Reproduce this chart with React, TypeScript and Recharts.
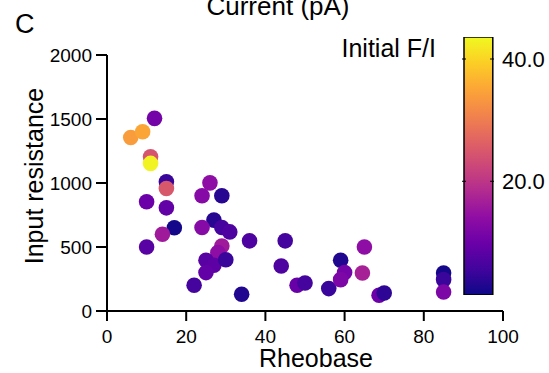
import React from 'react';
import { ScatterChart, Scatter, XAxis, YAxis, BarChart, Bar } from 'recharts';

// Rheobase (pA), input resistance and initial F/I for each cell
const rheobase = [
  6, 9, 12, 11, 11, 15, 15, 26, 24, 29, 10, 15, 27, 24, 29, 31, 17, 14, 10, 29, 28, 25,
  27, 30, 25, 22, 34, 36, 45, 44, 48, 50, 56, 59, 60, 59, 65, 64.5, 68.7, 70, 85, 85, 85,
];
const inputResistance = [
  1355, 1400, 1505, 1205, 1153, 1009, 957, 1001, 900, 900, 853, 806, 710, 652, 652, 618, 650, 600, 500,
  508, 457, 397, 357, 400, 300, 201, 131, 548, 548, 352, 201, 219, 175, 397, 300, 245, 500, 297, 123,
  141, 297, 245, 149,
];
const initialFI = [
  34, 35, 11, 24.5, 43, 5, 25, 14, 13, 3.5, 10, 9, 3.5, 13, 6, 7, 2, 16, 8, 16, 14, 8, 8.5, 5, 9, 6, 3,
  7, 6, 7, 9.5, 6, 5, 3, 11, 12, 14, 17, 10, 4, 2, 5, 12,
];

const xTicks = [0, 20, 40, 60, 80, 100];
const yTicks = [0, 500, 1000, 1500, 2000];
const fiDomain = [1.4, 43.6];
const fiTicks = [20, 40];

const plasma = [
  '#0d0887', '#41049d', '#6a00a8', '#8f0da4', '#b12a90', '#cc4778',
  '#e16462', '#f2844b', '#fca636', '#fcce25', '#f0f921',
];

const hex = (h: string) => [1, 3, 5].map((i) => parseInt(h.slice(i, i + 2), 16));

const plasmaColor = (v: number) => {
  let t = (v - fiDomain[0]) / (fiDomain[1] - fiDomain[0]);
  t = Math.max(0, Math.min(1, t));
  const pos = t * (plasma.length - 1);
  const i = Math.min(Math.floor(pos), plasma.length - 2);
  const f = pos - i;
  const a = hex(plasma[i]);
  const b = hex(plasma[i + 1]);
  const c = a.map((ch, k) => Math.round(ch + (b[k] - ch) * f));
  return `rgb(${c[0]},${c[1]},${c[2]})`;
};

const points = rheobase.map((x, i) => ({ x, y: inputResistance[i], fi: initialFI[i] }));
const colorbarData = [{ name: 'fi', range: fiDomain }];

const font = '"Liberation Sans", Arial, sans-serif';

const Dot = (props: any) => {
  const { cx, cy, payload } = props;
  return <circle cx={cx} cy={cy} r={7.8} fill={plasmaColor(payload.fi)} />;
};

const ColorTick = (props: any) => {
  const { x, y, payload } = props;
  return (
    <g>
      <line x1={x - 4} x2={x} y1={y} y2={y} stroke="#000" strokeWidth={1} />
      <line x1={x - 32} x2={x - 28} y1={y} y2={y} stroke="#000" strokeWidth={1} />
      <text x={x + 8} y={y} dy="0.35em" fontSize={22} fill="#000">
        {Number(payload.value).toFixed(1)}
      </text>
    </g>
  );
};

const App = () => {
  return (
    <div style={{ position: 'absolute', left: 0, top: 0, width: 549, height: 373, fontFamily: font, background: '#fff' }}>
      <ScatterChart width={549} height={373} margin={{ top: 55, right: 46, bottom: 0, left: 0 }}>
        <XAxis
          type="number"
          dataKey="x"
          domain={[0, 100]}
          ticks={xTicks}
          height={62}
          tickSize={10}
          tickMargin={9}
          axisLine={{ stroke: '#000', strokeWidth: 2 }}
          tickLine={{ stroke: '#000', strokeWidth: 2 }}
          tick={{ fill: '#000', fontSize: 19 }}
        />
        <YAxis
          type="number"
          dataKey="y"
          domain={[0, 2000]}
          ticks={yTicks}
          width={107}
          tickSize={11}
          tickMargin={4}
          axisLine={{ stroke: '#000', strokeWidth: 2 }}
          tickLine={{ stroke: '#000', strokeWidth: 2 }}
          tick={{ fill: '#000', fontSize: 19 }}
        />
        <Scatter data={points} shape={<Dot />} isAnimationActive={false} />
      </ScatterChart>

      <div style={{ position: 'absolute', left: 462, top: 37, width: 87, height: 258 }}>
        <BarChart width={87} height={258} data={colorbarData} margin={{ top: 0, right: 0, bottom: 0, left: 0 }} barCategoryGap={0}>
          <defs>
            <linearGradient id="plasmaGrad" x1="0" y1="1" x2="0" y2="0">
              {plasma.map((c, i) => (
                <stop key={c} offset={`${(i / (plasma.length - 1)) * 100}%`} stopColor={c} />
              ))}
            </linearGradient>
          </defs>
          <XAxis dataKey="name" hide />
          <YAxis
            orientation="right"
            type="number"
            domain={fiDomain}
            ticks={fiTicks}
            width={55}
            axisLine={false}
            tickLine={false}
            tickSize={0}
            tickMargin={0}
            tick={<ColorTick />}
            allowDataOverflow
          />
          <Bar dataKey="range" barSize={32} fill="url(#plasmaGrad)" stroke="#000" strokeWidth={1.5} isAnimationActive={false} />
        </BarChart>
      </div>

      <svg width={549} height={373} style={{ position: 'absolute', left: 0, top: 0, pointerEvents: 'none' }}>
        <text x={278} y={15} textAnchor="middle" fontSize={26} fill="#000">Current (pA)</text>
        <text x={15} y={33} fontSize={27} fill="#000">C</text>
        <text x={436} y={57} textAnchor="end" fontSize={25} fill="#000">Initial F/I</text>
        <text x={316} y={367} textAnchor="middle" fontSize={25} fill="#000">Rheobase</text>
        <text x={43} y={176} textAnchor="middle" fontSize={25} fill="#000" transform="rotate(-90 43 176)">
          Input resistance
        </text>
      </svg>
    </div>
  );
};

export default App;
